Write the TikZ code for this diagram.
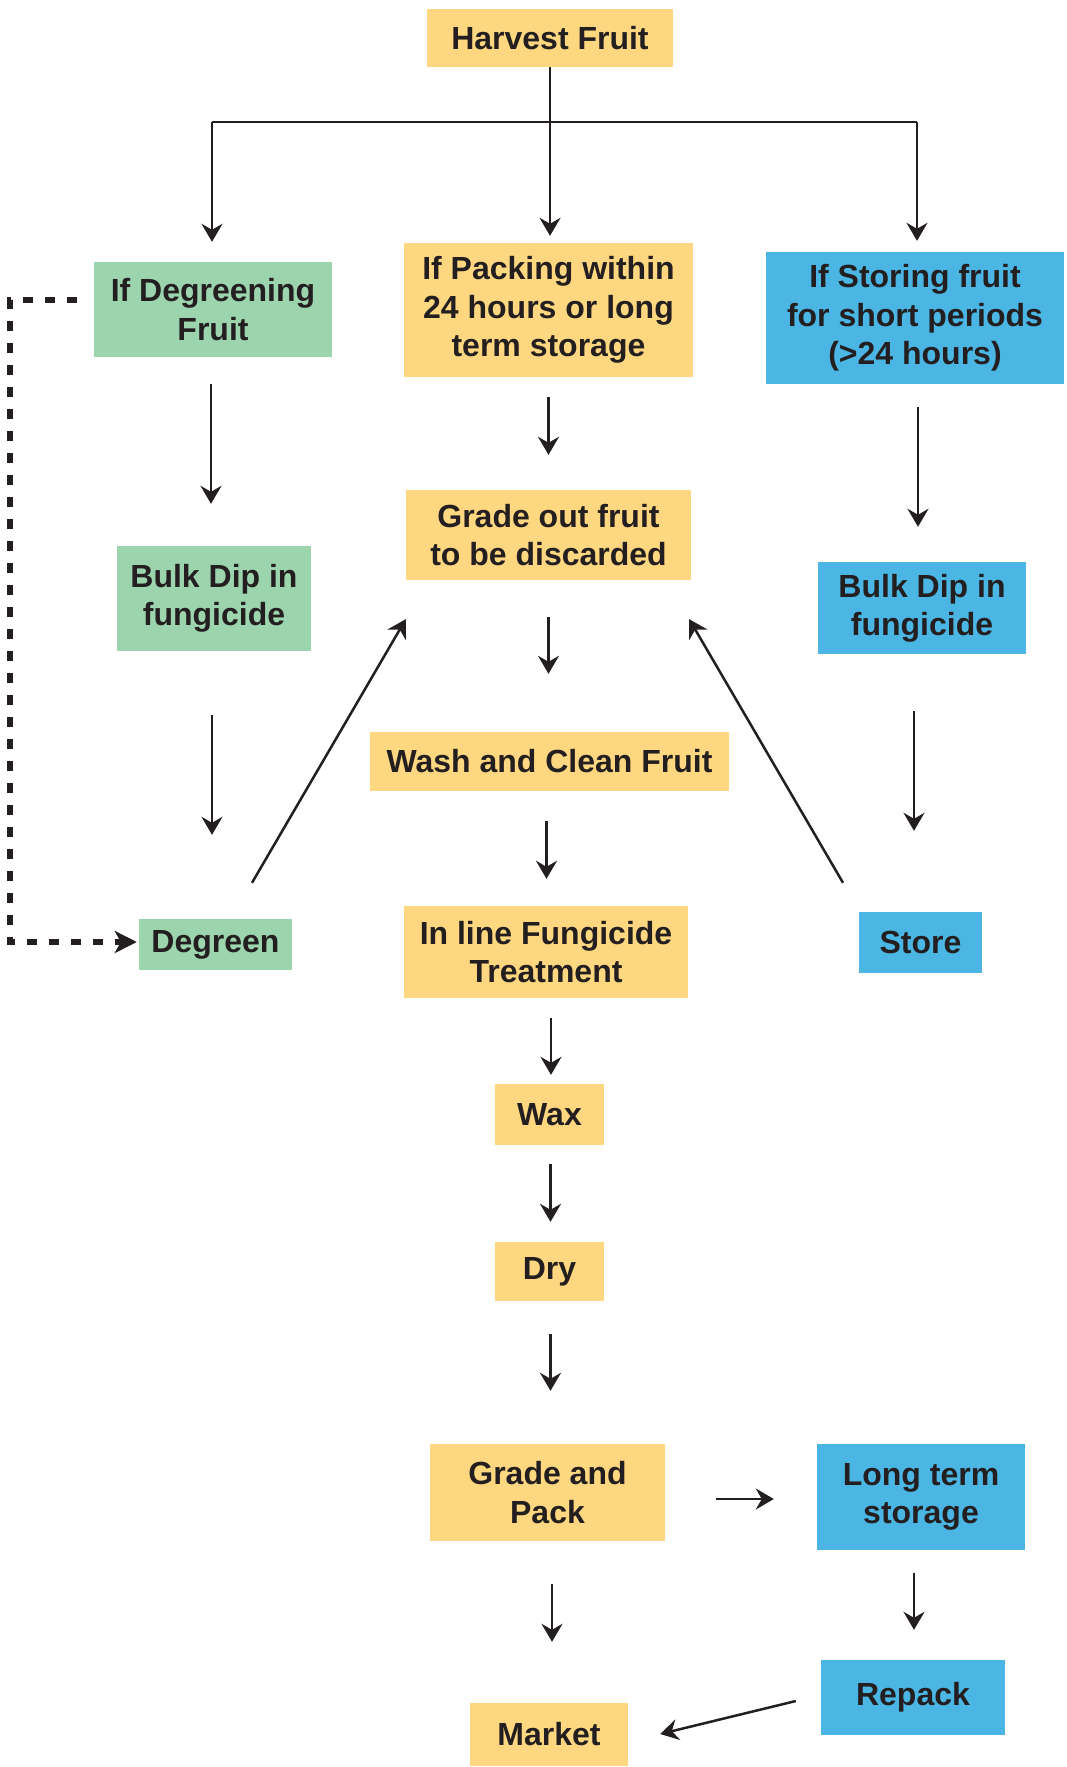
\documentclass[tikz,border=0pt]{standalone}
\usepackage{fontspec}
\setmainfont{Liberation Sans}
\usetikzlibrary{arrows.meta,calc}
\definecolor{cY}{RGB}{254,215,128}
\definecolor{cG}{RGB}{156,212,174}
\definecolor{cB}{RGB}{75,182,227}
\definecolor{txt}{RGB}{35,31,32}
\tikzset{
  box/.style={inner sep=0pt, text=txt, font=\bfseries\fontsize{32}{38.4}\selectfont, align=center},
  ybx/.style={box, fill=cY},
  gbx/.style={box, fill=cG},
  bbx/.style={box, fill=cB},
  ln/.style={line width=2.5pt, draw=txt},
  arr/.style={ln, -{Stealth[length=18pt,width=21pt,inset=6pt]}},
  dasharr/.style={line width=5.5pt, draw=txt, dash pattern=on 10pt off 12pt, -{Stealth[length=22pt,width=22pt,inset=6pt]}},
}
\begin{document}
\begin{tikzpicture}[x=1pt,y=-1pt]
\useasboundingbox (0,0) rectangle (1066,1767);
% boxes
\node[ybx, minimum width=246pt, minimum height=58pt] (harvest) at (550,38) {Harvest Fruit};
\node[gbx, minimum width=238pt, minimum height=95pt] (degf) at (213,309.5) {If Degreening\\Fruit};
\node[ybx, minimum width=289pt, minimum height=134pt] (pack) at (548.5,310) {If Packing within\\24 hours or long\\term storage};
\node[bbx, minimum width=298pt, minimum height=132pt] (stor) at (915,318) {If Storing fruit\\for short periods\\(>24 hours)};
\node[gbx, minimum width=194pt, minimum height=105pt] (bulkL) at (214,598.5) {Bulk Dip in\\fungicide};
\node[ybx, minimum width=285pt, minimum height=90pt] (gradeout) at (548.5,535) {Grade out fruit\\to be discarded};
\node[bbx, minimum width=208pt, minimum height=92pt] (bulkR) at (922,608) {Bulk Dip in\\fungicide};
\node[ybx, minimum width=359pt, minimum height=59pt] (wash) at (549.5,761.5) {Wash and Clean Fruit};
\node[gbx, minimum width=153pt, minimum height=51pt] (degreen) at (215.5,944.5) {Degreen};
\node[ybx, minimum width=284pt, minimum height=92pt] (inline) at (546,952) {In line Fungicide\\Treatment};
\node[bbx, minimum width=123pt, minimum height=61pt] (store) at (920.5,942.5) {Store};
\node[ybx, minimum width=109pt, minimum height=61pt] (wax) at (549.5,1114.5) {Wax};
\node[ybx, minimum width=109pt, minimum height=59pt] (dry) at (549.5,1271.5) {Dry};
\node[ybx, minimum width=235pt, minimum height=97pt] (gpack) at (547.5,1492.5) {Grade and\\Pack};
\node[bbx, minimum width=208pt, minimum height=106pt] (longterm) at (921,1497) {Long term\\storage};
\node[bbx, minimum width=184pt, minimum height=75pt] (repack) at (913,1697.5) {Repack};
\node[ybx, minimum width=158pt, minimum height=63pt] (market) at (549,1734.5) {Market};
% split from harvest
\coordinate (split) at (550,122);
\coordinate (bl) at (212,122);
\coordinate (br) at (917,122);
\draw[ln] (harvest.south) -- (split);
\draw[ln] (bl) -- (br);
\draw[arr, shorten >=20pt] (bl) -- (bl |- degf.north);
\draw[arr, shorten >=7pt] (split) -- (split |- pack.north);
\draw[arr, shorten >=11pt] (br) -- (br |- stor.north);
% start points of vertical arrows
\coordinate (s1) at ([xshift=-2pt]degf.south);
\coordinate (s2) at (pack.south);
\coordinate (s3) at ([xshift=3pt]stor.south);
\coordinate (s4) at ([xshift=-2pt]bulkL.south);
\coordinate (s5) at ([xshift=-8pt]bulkR.south);
\coordinate (s6) at (gradeout.south);
\coordinate (s7) at ([xshift=-3pt]wash.south);
\coordinate (s8) at ([xshift=5pt]inline.south);
\coordinate (s9) at ([xshift=1pt]wax.south);
\coordinate (s10) at ([xshift=1pt]dry.south);
\coordinate (s11) at ([yshift=-6.5pt]gpack.east);
\coordinate (s12) at ([xshift=-7pt]longterm.south);
\coordinate (s13) at ([xshift=4.5pt]gpack.south);
% vertical arrows
\draw[arr, shorten <=27pt, shorten >=42pt] (s1) -- (s1 |- bulkL.north);
\draw[arr, shorten <=20pt, shorten >=35pt] (s2) -- (s2 |- gradeout.north);
\draw[arr, shorten <=23pt, shorten >=35pt] (s3) -- (s3 |- bulkR.north);
\draw[arr, shorten <=64pt, shorten >=84pt] (s4) -- (s4 |- degreen.north);
\draw[arr, shorten <=57pt, shorten >=81pt] (s5) -- (s5 |- store.north);
\draw[arr, shorten <=37pt, shorten >=58pt] (s6) -- (s6 |- wash.north);
\draw[arr, shorten <=30pt, shorten >=27pt] (s7) -- (s7 |- inline.north);
\draw[arr, shorten <=20pt, shorten >=9pt] (s8) -- (s8 |- wax.north);
\draw[arr, shorten <=19pt, shorten >=20pt] (s9) -- (s9 |- dry.north);
\draw[arr, shorten <=33pt, shorten >=53pt] (s10) -- (s10 |- gpack.north);
\draw[arr, shorten <=51pt, shorten >=43pt] (s11) -- (s11 -| longterm.west);
\draw[arr, shorten <=23pt, shorten >=30pt] (s12) -- (s12 |- repack.north);
\draw[arr, shorten <=43pt, shorten >=61pt] (s13) -- (s13 |- market.north);
\draw[arr] ($(repack.west)+(-25,3.5)$) -- ($(market.east)+(32,-0.5)$);
% diagonals
\draw[arr] ($(degreen.north)+(36.5,-36)$) -- ($(gradeout.south west)+(0,39)$);
\draw[arr] ($(store.north)+(-77.5,-29)$) -- ($(gradeout.south east)+(-2,39)$);
% dashed loop
\draw[dasharr] ($(degf.west)+(-17,-9.5)$) -- ++(-67,0) |- ($(degreen.west)+(-2,-2.5)$);
\end{tikzpicture}
\end{document}
